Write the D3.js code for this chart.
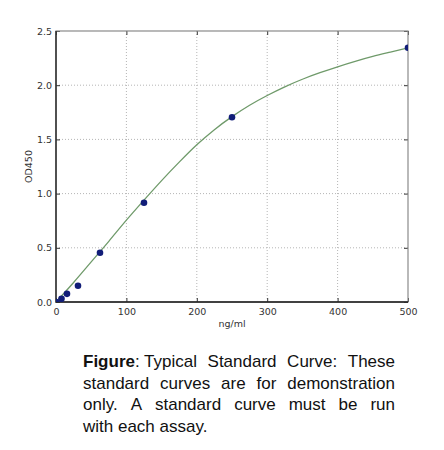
<!DOCTYPE html>
<html lang="en">
<head>
  <meta charset="UTF-8">
  <title>Typical Standard Curve</title>
  <style>
    body { margin: 0; background: #fff; }
    svg text { font-family: "DejaVu Sans", sans-serif; }
  </style>
</head>
<body>
  <div id="chart"></div>
  <script src="https://cdn.jsdelivr.net/npm/d3@7"></script>
  <script>
    // standards (ng/ml) and measured OD450
    var conc = [0, 7.8, 15.6, 31.25, 62.5, 125, 250, 500];
    var od = [0.0, 0.03, 0.075, 0.15, 0.455, 0.915, 1.705, 2.345];
    // fitted curve
    var fitX = [0, 25, 50, 75, 100, 125, 150, 175, 200, 225, 250, 275, 300, 325, 350, 375, 400, 425, 450, 475, 500];
    var fitY = [0, 0.18, 0.37, 0.56, 0.755, 0.94, 1.12, 1.29, 1.45, 1.59, 1.71, 1.815, 1.905, 1.985, 2.055, 2.115, 2.17, 2.22, 2.265, 2.305, 2.345];
    var xTicks = [0, 100, 200, 300, 400, 500];
    var yTicks = [0.0, 0.5, 1.0, 1.5, 2.0, 2.5];
    var captionLines = [
      ["Figure", ": Typical", "Standard", "Curve:", "These"],
      ["standard", "curves", "are", "for", "demonstration"],
      ["only.", "A", "standard", "curve", "must", "be", "run"],
      ["with", "each", "assay."]
    ];

    var W = 444, H = 450;
    var m = { left: 56, right: 36, top: 31, bottom: 148 };
    var iw = W - m.left - m.right, ih = H - m.top - m.bottom;

    var svg = d3.select('#chart').append('svg')
      .attr('width', W).attr('height', H);

    var x = d3.scaleLinear().domain([0, 500]).range([m.left, m.left + iw]);
    var y = d3.scaleLinear().domain([0, 2.5]).range([m.top + ih, m.top]);

    svg.append('clipPath').attr('id', 'plot')
      .append('rect').attr('x', m.left).attr('y', m.top).attr('width', iw).attr('height', ih);

    // dotted grid
    var grid = svg.append('g').attr('stroke', '#b5b5b5').attr('stroke-dasharray', '1,2');
    grid.selectAll('.gx').data(xTicks.slice(1, -1)).enter().append('line')
      .attr('x1', function (d) { return x(d); }).attr('x2', function (d) { return x(d); })
      .attr('y1', m.top).attr('y2', m.top + ih);
    grid.selectAll('.gy').data(yTicks.slice(1, -1)).enter().append('line')
      .attr('y1', function (d) { return y(d); }).attr('y2', function (d) { return y(d); })
      .attr('x1', m.left).attr('x2', m.left + iw);

    // axes with inward ticks
    var ax = svg.append('g').attr('transform', 'translate(0,' + (m.top + ih) + ')')
      .call(d3.axisBottom(x).tickValues(xTicks).tickSize(-4).tickPadding(6).tickFormat(d3.format('d')));
    var ay = svg.append('g').attr('transform', 'translate(' + m.left + ',0)')
      .call(d3.axisLeft(y).tickValues(yTicks).tickSize(-4).tickPadding(4).tickFormat(d3.format('.1f')));
    svg.append('g').attr('transform', 'translate(0,' + m.top + ')')
      .call(d3.axisTop(x).tickValues(xTicks).tickSize(-4).tickFormat(''));
    svg.append('g').attr('transform', 'translate(' + (m.left + iw) + ',0)')
      .call(d3.axisRight(y).tickValues(yTicks).tickSize(-4).tickFormat(''));
    svg.selectAll('.domain').remove();
    svg.selectAll('.tick line').attr('stroke', '#333');
    [ax, ay].forEach(function (g) {
      g.selectAll('text').attr('font-size', 9.5).attr('fill', '#333')
        .attr('font-family', '"DejaVu Sans", sans-serif');
    });

    // frame
    svg.append('rect').attr('x', m.left).attr('y', m.top).attr('width', iw).attr('height', ih)
      .attr('fill', 'none').attr('stroke', '#8a8a8a').attr('stroke-width', 1.2);
    svg.append('path')
      .attr('d', 'M' + m.left + ',' + m.top + 'V' + (m.top + ih) + 'H' + (m.left + iw))
      .attr('fill', 'none').attr('stroke', '#1a1a1a').attr('stroke-width', 1.3);

    // fit curve
    var line = d3.line().x(function (d) { return x(d[0]); }).y(function (d) { return y(d[1]); })
      .curve(d3.curveNatural);
    svg.append('path').datum(d3.zip(fitX, fitY))
      .attr('clip-path', 'url(#plot)')
      .attr('d', line).attr('fill', 'none').attr('stroke', '#6f9a6a').attr('stroke-width', 1.3);

    // standards
    svg.append('g').attr('clip-path', 'url(#plot)')
      .selectAll('circle').data(d3.zip(conc, od)).enter().append('circle')
      .attr('cx', function (d) { return x(d[0]); }).attr('cy', function (d) { return y(d[1]); })
      .attr('r', 3.3).attr('fill', '#111d78');

    // axis titles
    svg.append('text').attr('x', x(250)).attr('y', 327).attr('text-anchor', 'middle')
      .attr('font-size', 9.5).attr('fill', '#333').text('ng/ml');
    svg.append('text').attr('transform', 'translate(32,' + y(1.25) + ') rotate(-90)')
      .attr('text-anchor', 'middle').attr('font-size', 9.5).attr('fill', '#333').text('OD450');

    // caption, justified like the source
    var cx0 = 83, cx1 = 395, base = 367, lh = 21.6;
    captionLines.forEach(function (words, i) {
      var yy = base + i * lh;
      var nodes = words.map(function (w, j) {
        return svg.append('text').attr('y', yy)
          .style('font-family', '"Liberation Sans", Arial, sans-serif')
          .attr('font-size', 17).attr('fill', '#111')
          .attr('font-weight', (i === 0 && j === 0) ? 'bold' : 'normal')
          .text(w);
      });
      var widths = nodes.map(function (n) { return n.node().getComputedTextLength(); });
      var total = d3.sum(widths);
      var last = i === captionLines.length - 1;
      var n = words.length;
      // "Figure" and ": Typical" share a tight join
      var spaceW = 4.7;
      var gapCount = (i === 0) ? n - 2 : n - 1;
      var gap = last ? spaceW : (cx1 - cx0 - total) / gapCount;
      var pos = cx0;
      nodes.forEach(function (nd, j) {
        nd.attr('x', pos);
        pos += widths[j];
        if (!(i === 0 && j === 0)) pos += gap;
      });
    });
  </script>
</body>
</html>
